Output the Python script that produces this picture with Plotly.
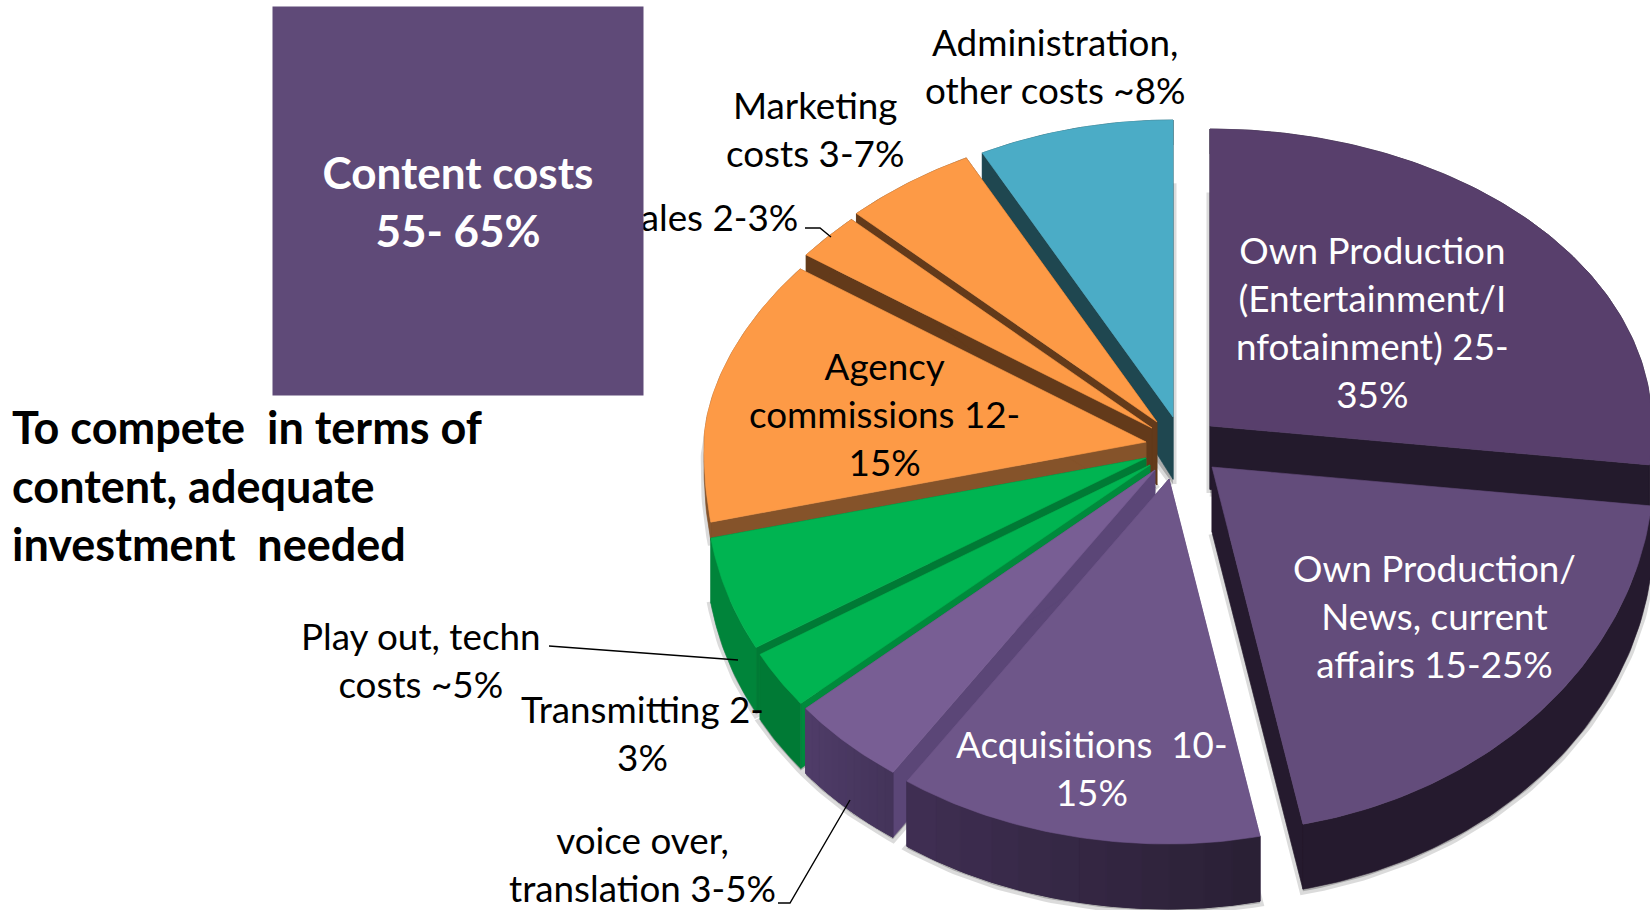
import math
import plotly.graph_objects as go

# ---- data (share of total, %) ----
categories = ["Own Production (Entertainment/Infotainment)", "Own Production/News, current affairs",
              "Acquisitions", "voice over, translation", "Transmitting", "Play out, techn costs",
              "Agency commissions", "Sales", "Marketing costs", "Administration, other costs"]
values = [26.7, 20.0, 13.4, 4.4, 2.7, 5.0, 13.5, 2.4, 4.8, 7.1]

# ---- style and layout ----
apex_x = [1210, 1212, 1169, 1155, 1150, 1146, 1146, 1152, 1157, 1173]
apex_y = [426, 467, 479, 470, 465, 458, 442, 428, 422, 417]
top_colors = ["#583f6c", "#634c7b", "#6e5689", "#785e94", "#00b451", "#00b451",
              "#fd9a46", "#fd9a46", "#fd9a46", "#4bacc6"]
wall_colors = ["#231a2c", "#251a2e", "#5b4677", "#5b4677", "#008a3c", "#007a35",
               "#85532a", "#633a1a", "#633a1a", "#1f4750"]
rim_start = ["#231a2c", "#251a2e", "#2a2035", "#44345a", "#007a35", "#00843a",
             "#85532a", "#633a1a", "#633a1a", "#1f4750"]
rim_end = ["#231a2c", "#251a2e", "#3f2e52", "#4f3c68", "#007a35", "#00843a",
           "#85532a", "#633a1a", "#633a1a", "#1f4750"]
rim_cap = [65, 65, 65, 65, 65, 65, 18, 65, 65, 65]
paint_order = [9, 0, 8, 7, 6, 5, 4, 3, 2, 1]
RX, R_BACK, R_FRONT = 442, 297, 365
BACK_LEFT_POWER, FRONT_LEFT_POWER = 1.14, 0.87
W, H = 1650, 910
GRADIENT_STEPS = 12


def depth(y, cap=65):
    return min(cap, 25 + max(0, y - 130) * 0.13)


def rim_pt(i, theta):
    c = math.cos(theta)
    s = math.sin(theta)
    if c > 0:
        dy = -R_BACK * (c ** BACK_LEFT_POWER if s < 0 else c)
    else:
        dy = R_FRONT * (abs(c) ** FRONT_LEFT_POWER if s < 0 else abs(c))
    return apex_x[i] + RX * s, apex_y[i] + dy


def poly(xs, ys, fill, line=None, lw=0.6):
    return go.Scatter(x=xs, y=ys, mode="lines", fill="toself", fillcolor=fill,
                      line=dict(color=line or fill, width=lw), hoverinfo="skip", showlegend=False)


def mix(a, b, t):
    pa = [int(a[k:k + 2], 16) for k in (1, 3, 5)]
    pb = [int(b[k:k + 2], 16) for k in (1, 3, 5)]
    return "rgb(%d,%d,%d)" % tuple(round(p + (q - p) * t) for p, q in zip(pa, pb))


total = sum(values)
start = [sum(values[:i]) / total * 2 * math.pi for i in range(len(values))]
stop = [sum(values[:i + 1]) / total * 2 * math.pi for i in range(len(values))]
arcs = []
for i in range(len(values)):
    n = max(24, int(values[i] * 4))
    arcs.append([rim_pt(i, start[i] + (stop[i] - start[i]) * k / n) for k in range(n + 1)])


def rim_band(i, pts):
    cap = rim_cap[i]
    return ([p[0] for p in pts] + [p[0] for p in reversed(pts)] + [pts[0][0]],
            [p[1] for p in pts] + [p[1] + depth(p[1], cap) for p in reversed(pts)] + [pts[0][1]])


traces = []
# soft shadow under each wedge
for i in paint_order:
    shift = rim_cap[i] + 2
    xs = [apex_x[i]] + [p[0] for p in arcs[i]] + [apex_x[i]]
    ys = [apex_y[i] + 67] + [p[1] + shift for p in arcs[i]] + [apex_y[i] + 67]
    traces.append(poly(xs, ys, "rgba(0,0,0,0.22)", "rgba(0,0,0,0.14)", 7))

for i in paint_order:
    ax, ay = apex_x[i], apex_y[i]
    d0 = depth(ay)
    # the two cut faces
    for p in (arcs[i][0], arcs[i][-1]):
        traces.append(poly([ax, p[0], p[0], ax, ax],
                           [ay, p[1], p[1] + depth(p[1], rim_cap[i]), ay + d0, ay], wall_colors[i]))
    # outer rim: one solid band, then a few broad shaded bands where the colour changes
    pts = arcs[i]
    bx, by = rim_band(i, pts)
    traces.append(poly(bx, by, mix(rim_start[i], rim_end[i], 0.5)))
    if rim_start[i] != rim_end[i]:
        m = len(pts) - 1
        for s in range(GRADIENT_STEPS):
            a = s * m // GRADIENT_STEPS
            b = (s + 1) * m // GRADIENT_STEPS
            bx, by = rim_band(i, pts[a:b + 1])
            traces.append(poly(bx, by, mix(rim_start[i], rim_end[i], s / (GRADIENT_STEPS - 1)), lw=1))
    # top face
    traces.append(poly([ax] + [p[0] for p in pts] + [ax], [ay] + [p[1] for p in pts] + [ay], top_colors[i]))

# leader lines
leader_x = [[805, 820, 831], [549, 738], [778, 790, 850]]
leader_y = [[228, 228, 237], [646, 660], [903, 903, 800]]
for lx, ly in zip(leader_x, leader_y):
    traces.append(go.Scatter(x=lx, y=ly, mode="lines", line=dict(color="#000000", width=1.4),
                             hoverinfo="skip", showlegend=False))

fig = go.Figure(traces)

FONT = "Lato"
labels = [
    ("Administration,<br>other costs ~8%", 1055, 66, "center", "#000000"),
    ("Marketing<br>costs 3-7%", 815, 129, "center", "#000000"),
    ("Sales 2-3%", 800, 217, "right", "#000000"),
    ("Agency<br>commissions 12-<br>15%", 884, 414, "center", "#000000"),
    ("Own Production<br>(Entertainment/I<br>nfotainment) 25-<br>35%", 1372, 322, "center", "#ffffff"),
    ("Own Production/<br>News, current<br>affairs 15-25%", 1434, 616, "center", "#ffffff"),
    ("Acquisitions  10-<br>15%", 1092, 768, "center", "#ffffff"),
    ("voice over,<br>translation 3-5%", 642, 864, "center", "#000000"),
    ("Transmitting 2-<br>3%", 642, 733, "center", "#000000"),
    ("Play out, techn<br>costs ~5%", 421, 660, "center", "#000000"),
]
for text, x, y, anchor, color in labels:
    fig.add_annotation(x=x, y=y, text=text, xref="x", yref="y", xanchor=anchor, yanchor="middle",
                       showarrow=False, align="center", font=dict(family=FONT, size=36.8, color=color))

# the box sits above the clipped Sales label
fig.add_annotation(x=457.5, y=201, xref="x", yref="y", xanchor="center", yanchor="middle",
                   text="<b>Content costs<br>55- 65%</b>", showarrow=False, align="center",
                   width=370, height=388, bgcolor="#5f4a78", borderpad=0, valign="middle",
                   font=dict(family=FONT, size=44, color="#ffffff"))
fig.add_annotation(x=10, y=485, xref="x", yref="y", xanchor="left", yanchor="middle",
                   text="<b>To compete\u00a0 in terms of<br>content, adequate<br>investment\u00a0 needed</b>",
                   showarrow=False, align="left", font=dict(family=FONT, size=45, color="#000000"))

fig.update_layout(
    width=W, height=H, margin=dict(l=0, r=0, t=0, b=0), paper_bgcolor="#ffffff", plot_bgcolor="#ffffff",
    showlegend=False,
    xaxis=dict(range=[0, W], visible=False, fixedrange=True),
    yaxis=dict(range=[H, 0], visible=False, fixedrange=True),
)
fig.write_html("out.html", config={"displayModeBar": False},
               post_script="document.body.style.margin='0';document.body.style.overflow='hidden';")
